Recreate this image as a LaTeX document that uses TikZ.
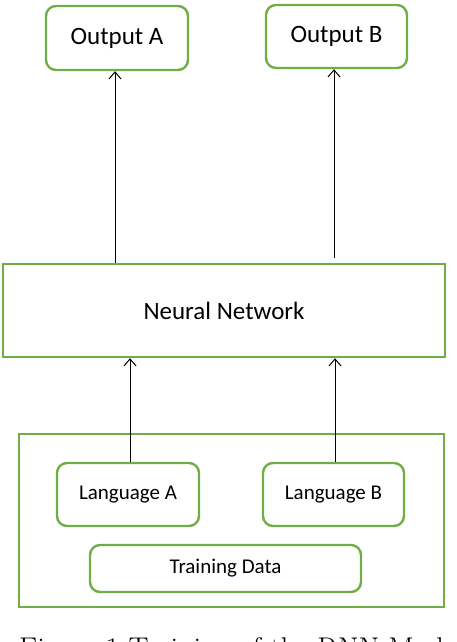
\documentclass[tikz,border=0pt]{standalone}
\usepackage{fontspec}
\newfontfamily\calib{Carlito}
\usepackage{tikz}
\usetikzlibrary{arrows.meta, positioning}
\definecolor{boxgreen}{RGB}{112,173,71}
\tikzset{
  rbox/.style={draw=boxgreen, line width=2.4pt, rounded corners=10pt, inner sep=0pt, font=\calib\fontsize{21}{25}\selectfont},
  sbox/.style={draw=boxgreen, line width=2.4pt, inner sep=0pt},
  arr/.style={-{Straight Barb[length=7pt,width=12pt]}, line width=1pt, black}
}

\begin{document}
\begin{tikzpicture}[x=1pt, y=-1pt]
          \clip (0,0) rectangle (456,642);
          % Outputs
          \node[rbox, minimum width=142pt, minimum height=64pt, font=\calib\fontsize{25}{30}\selectfont] (outA) at (117,38) {Output A};
          \node[rbox, minimum width=141pt, minimum height=63pt, font=\calib\fontsize{25}{30}\selectfont] (outB) at (336.5,36.5) {Output B};
          % Network
          \node[sbox, minimum width=442pt, minimum height=93pt, font=\calib\fontsize{25}{30}\selectfont] (nn) at (224,310.5) {Neural Network};
          % Training data
          \node[sbox, minimum width=425pt, minimum height=173pt] (data) at (231.5,520.5) {};
          \node[rbox, minimum width=142pt, minimum height=63pt] (langA) at (128,494.5) {Language A};
          \node[rbox, minimum width=141pt, minimum height=63pt] (langB) at (333.5,494.5) {Language B};
          \node[rbox, minimum width=271pt, minimum height=47pt] (train) at (225.5,568.5) {Training Data};
          % Arrows
          \draw[arr] ([xshift=-2pt]outA.south |- nn.north) -- ([xshift=-2pt]outA.south);
          \draw[arr] ([xshift=-2.5pt, yshift=5pt]outB.south |- nn.north) -- ([xshift=-2.5pt]outB.south);
          \draw[arr] ([xshift=2pt]langA.north) -- ([xshift=2pt]langA.north |- nn.south);
          \draw[arr] ([xshift=1.5pt]langB.north) -- ([xshift=1.5pt]langB.north |- nn.south);
          % Caption (cut off at the lower edge)
          \node[anchor=base west, inner sep=0pt, font=\fontsize{30}{34}\selectfont] (cap) at (19,658) {Figure 1 Training of the RNN Model};
        \end{tikzpicture}
\end{document}
